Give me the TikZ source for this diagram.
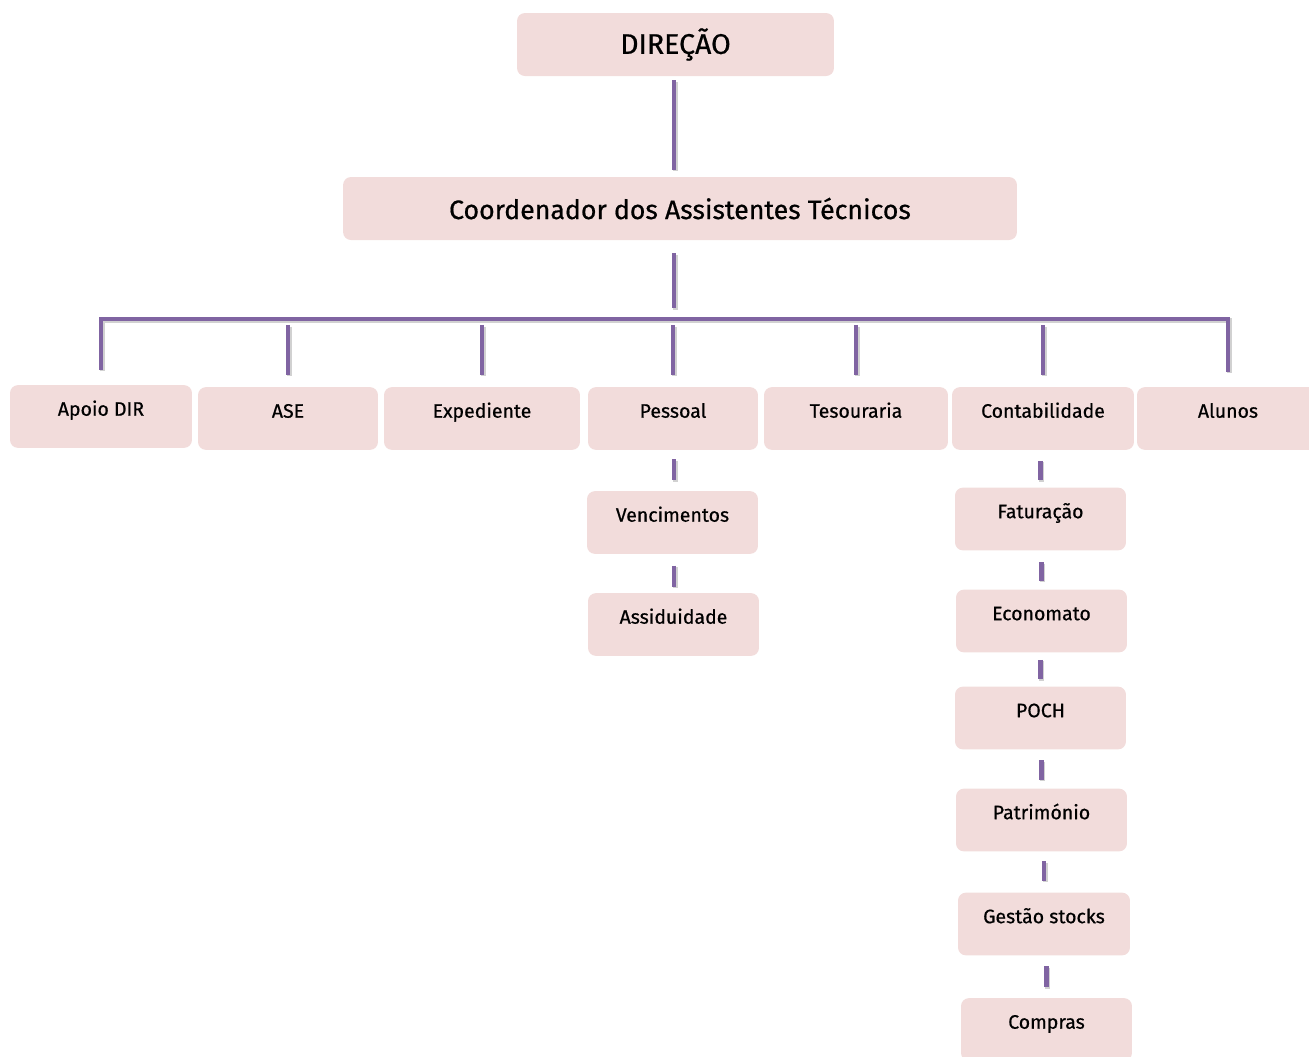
\documentclass[tikz,border=0pt]{standalone}
\usepackage{fontspec}
\setmainfont{Fira Sans}[FakeBold=0.6,AutoFakeBold=0.6]
\usetikzlibrary{positioning}

\definecolor{boxpink}{HTML}{F2DCDB}
\definecolor{linkpurple}{HTML}{8064A2}

\tikzset{
  topbox/.style={fill=boxpink,rounded corners=4.5pt,minimum height=1.26cm,
    inner sep=0pt,font=\fontsize{15.2}{18}\selectfont},
  unitbox/.style={fill=boxpink,rounded corners=4.5pt,inner sep=0pt,
    text height=17.4pt,text depth=18.3pt,font=\fontsize{11.1}{13}\selectfont},
  link/.style={draw=linkpurple,line width=2.8pt,
    preaction={draw=black!18,line width=2.8pt,transform canvas={shift={(0.7pt,-0.9pt)}}}},
}

\begin{document}
\begin{tikzpicture}[x=0.02cm,y=-0.02cm]
  \useasboundingbox (0,0) rectangle (1309,1056);
  \clip (0,0) rectangle (1309,1056);

  % top levels
  \node[topbox,minimum width=6.34cm,font=\fontsize{16.2}{19}\selectfont] (dir) at (675.5,44.5) {DIREÇÃO};
  \node[topbox,minimum width=13.48cm] (coord) at (680,208.5) {Coordenador dos Assistentes Técnicos};
  \coordinate (bar) at (674,319);

  % units
  \node[unitbox,minimum width=3.64cm] (apoio) at (101,416.5) {Apoio DIR};
  \node[unitbox,minimum width=3.60cm] (ase) at (288,418.5) {ASE};
  \node[unitbox,minimum width=3.92cm] (exped) at (482,418.5) {Expediente};
  \node[unitbox,minimum width=3.40cm] (pessoal) at (673,418.5) {Pessoal};
  \node[unitbox,minimum width=3.68cm] (tesour) at (856,418.5) {Tesouraria};
  \node[unitbox,minimum width=3.64cm] (contab) at (1043,418.5) {Contabilidade};
  \node[unitbox,minimum width=3.64cm] (alunos) at (1228,418.5) {Alunos};

  % pessoal
  \node[unitbox,minimum width=3.42cm] (venc) at (672.5,522.5) {Vencimentos};
  \node[unitbox,minimum width=3.42cm] (assid) at (673.5,624.5) {Assiduidade};

  % contabilidade
  \node[unitbox,minimum width=3.42cm] (fatur) at (1040.5,519) {Faturação};
  \node[unitbox,minimum width=3.42cm] (econ) at (1041.5,621) {Economato};
  \node[unitbox,minimum width=3.42cm] (poch) at (1040.5,718) {POCH};
  \node[unitbox,minimum width=3.42cm] (patrim) at (1041.5,820) {Património};
  \node[unitbox,minimum width=3.44cm] (gestao) at (1044,924) {Gestão stocks};
  \node[unitbox,minimum width=3.42cm] (compras) at (1046.5,1029.5) {Compras};

  % connectors
  \draw[link,shorten <=2.3pt,shorten >=4pt] (bar |- dir.south) -- (bar |- coord.north);
  \draw[link,shorten <=7.4pt,shorten >=6pt] (bar |- coord.south) -- (bar);
  \draw[link,shorten <=8.5pt,shorten >=8.5pt] (apoio.north) |- (bar) -| (alunos.north);
  \foreach \u in {ase,exped,pessoal,tesour,contab}
    \draw[link,shorten <=3.4pt,shorten >=6.8pt] (bar -| \u.north) -- (\u.north);
  \draw[link,shorten <=5pt,shorten >=6pt] (bar |- pessoal.south) -- (bar |- venc.north);
  \draw[link,shorten <=6.5pt,shorten >=3.5pt] (bar |- venc.south) -- (bar |- assid.north);
  \draw[link,shorten <=6pt,shorten >=4pt] (fatur.north |- contab.south) -- (fatur.north);
  \draw[link,shorten <=6.5pt,shorten >=5pt] (econ.north |- fatur.south) -- (econ.north);
  \draw[link,shorten <=4pt,shorten >=4pt] (poch.north |- econ.south) -- (poch.north);
  \draw[link,shorten <=6pt,shorten >=5pt] (patrim.north |- poch.south) -- (patrim.north);
  \draw[link,shorten <=5.5pt,shorten >=6.5pt] (gestao.north |- patrim.south) -- (gestao.north);
  \draw[link,shorten <=6pt,shorten >=6pt] (compras.north |- gestao.south) -- (compras.north);
\end{tikzpicture}
\end{document}
